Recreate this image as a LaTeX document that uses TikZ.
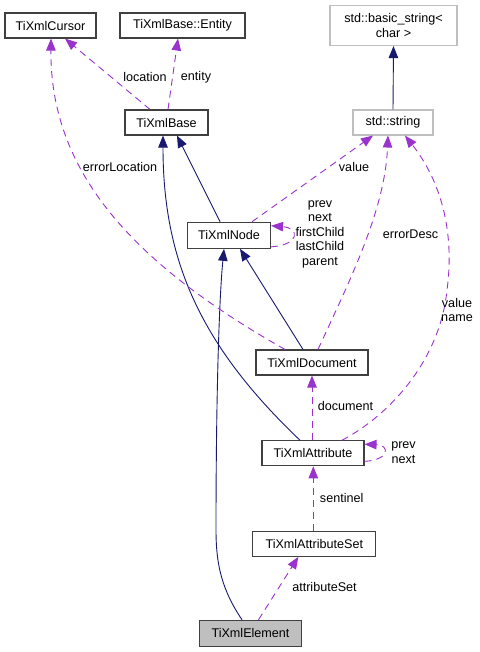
\documentclass[tikz,border=0pt]{standalone}
\usepackage{fontspec}
\setmainfont{Liberation Sans}
\usetikzlibrary{arrows.meta}
\definecolor{navyedge}{HTML}{191970}
\definecolor{purpedge}{HTML}{9A32CD}
\definecolor{boxgray}{HTML}{BFBFBF}
\definecolor{boxline}{HTML}{404040}
\tikzset{
  cls/.style={draw=boxline, line width=1.1pt, fill=white, inner sep=0pt, font=\fontsize{12.6}{14.5}\selectfont, align=center},
  extcls/.style={cls, draw=boxgray},
  inh/.style={draw=navyedge, line width=0.9pt, -{Triangle[length=12pt,width=9.5pt]}},
  dep/.style={draw=purpedge, line width=0.9pt, dash pattern=on 7pt off 5pt, -{Triangle[length=12pt,width=9.5pt]}},
  lbl/.style={font=\fontsize{12.6}{14.5}\selectfont, align=center, inner sep=0pt}
}
\begin{document}
\begin{tikzpicture}[x=1pt,y=-1pt]
\useasboundingbox (0,0) rectangle (479,652);
% nodes
\node[cls, minimum width=91pt, minimum height=25pt] (cursor) at (50.5,25.5) {TiXmlCursor};
\node[cls, minimum width=125pt, minimum height=25pt] (entity) at (182.5,25.5) {TiXmlBase::Entity};
\node[extcls, minimum width=127pt, minimum height=40pt] (basic) at (393.5,25.5) {std::basic\_string<\\char >};
\node[cls, minimum width=83pt, minimum height=25pt] (base) at (166.5,122.5) {TiXmlBase};
\node[extcls, minimum width=80pt, minimum height=25pt] (string) at (393,122.5) {std::string};
\node[cls, minimum width=83pt, minimum height=26pt] (xnode) at (229,235.3) {TiXmlNode};
\node[cls, minimum width=112pt, minimum height=25pt] (doc) at (312,362.5) {TiXmlDocument};
\node[cls, minimum width=102pt, minimum height=25pt] (attr) at (313,453.3) {TiXmlAttribute};
\node[cls, minimum width=123pt, minimum height=25pt] (attrset) at (314.3,543.8) {TiXmlAttributeSet};
\node[cls, fill=boxgray, minimum width=102pt, minimum height=26pt] (elem) at (250.5,633.3) {TiXmlElement};
% inheritance
\draw[inh] (string.north) -- (basic.south);
\draw[inh] ([xshift=-9pt]xnode.north) -- ([xshift=10.5pt]base.south);
\draw[inh] ([xshift=-13pt]attr.north) .. controls (200,345) and (163,260) .. ([xshift=-3.5pt]base.south);
\draw[inh] ([xshift=-9pt]doc.north) -- ([xshift=11pt]xnode.south);
\draw[inh] ([xshift=-8.5pt]elem.north) .. controls (222,590) and (216,565) .. (216,530) .. controls (216,400) and (219,300) .. ([xshift=-5pt]xnode.south);
% dependencies
\draw[dep] ([xshift=-16.5pt]base.north) -- ([xshift=14.5pt]cursor.south);
\node[lbl] (loclbl) at (145,77) {location};
\draw[dep] ([xshift=1.5pt]base.north) -- ([xshift=-4.5pt]entity.south);
\node[lbl] (entitylbl) at (196,77) {entity};
\draw[dep] ([xshift=23pt]xnode.north) -- ([xshift=-20pt]string.south);
\node[lbl] (valuelbl) at (354,167) {value};
\draw[dep] ([xshift=-27pt]doc.north) .. controls (130,262) and (50,170) .. ([xshift=0.5pt]cursor.south);
\node[lbl] (errloclbl) at (120,167) {errorLocation};
\draw[dep] ([xshift=6pt]doc.north) .. controls (350,280) and (385,210) .. ([xshift=-5pt]string.south);
\node[lbl] (errdesclbl) at (410.5,234) {errorDesc};
\draw[dep] ([xshift=29pt]attr.north) .. controls (390,415) and (440,360) .. (447,290) .. controls (455,230) and (440,180) .. ([xshift=12pt]string.south);
\node[lbl] (vnlbl) at (457,310) {value\\name};
\draw[dep] ([xshift=-1pt]attr.north) -- (doc.south);
\node[lbl] (doclbl) at (345.5,406) {document};
\draw[dep] ([xshift=-1pt]attrset.north) -- ([xshift=0.3pt]attr.south);
\node[lbl] (sentlbl) at (341.7,498) {sentinel};
\draw[dep] ([xshift=8pt]elem.north) -- ([xshift=-16pt]attrset.south);
\node[lbl] (aslbl) at (324.5,587) {attributeSet};
% self loops
\draw[dep] ([yshift=2pt]xnode.south east) .. controls (300,245) and (300,228) .. ([yshift=-4pt]xnode.north east);
\node[lbl] (nodeloop) at (320,234) {prev\\next\\firstChild\\lastChild\\parent};
\draw[dep] ([yshift=5pt]attr.south east) .. controls (390,460) and (390,445) .. ([yshift=-4pt]attr.north east);
\node[lbl] (attrloop) at (403.5,452.5) {prev\\next};
\end{tikzpicture}
\end{document}
